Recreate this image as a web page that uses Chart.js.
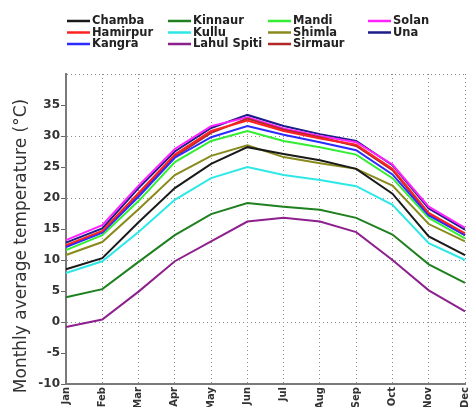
<!DOCTYPE html>
<html>
<head>
<meta charset="utf-8">
<script src="https://cdn.jsdelivr.net/npm/chart.js@4/dist/chart.umd.min.js"></script>
<style>
  html, body { margin: 0; padding: 0; background: #ffffff; overflow: hidden; }
  #wrap { position: relative; width: 480px; height: 412px; }
</style>
</head>
<body>
<div id="wrap"><canvas id="c" width="480" height="412"></canvas></div>
<script>
// Monthly average temperature (°C) by district
const months = ['Jan','Feb','Mar','Apr','May','Jun','Jul','Aug','Sep','Oct','Nov','Dec'];

const chamba     = [8.5, 10.3, 16.1, 21.6, 25.5, 28.2, 27.1, 26.1, 24.7, 20.7, 13.8, 10.8];
const hamirpur   = [12.4, 14.7, 20.8, 27.0, 30.8, 32.5, 30.8, 29.6, 28.6, 24.7, 17.6, 14.3];
const kangra     = [12.1, 14.4, 20.2, 26.5, 29.8, 31.6, 30.2, 29.0, 27.7, 23.8, 17.2, 14.0];
const kinnaur    = [4.0, 5.3, 9.7, 14.0, 17.4, 19.2, 18.6, 18.1, 16.8, 14.1, 9.3, 6.3];
const kullu      = [7.9, 9.8, 14.5, 19.7, 23.2, 25.0, 23.7, 22.9, 21.9, 18.9, 12.7, 10.0];
const lahulSpiti = [-0.8, 0.4, 4.9, 9.8, 13.0, 16.2, 16.8, 16.2, 14.5, 10.0, 5.1, 1.7];
const mandi      = [11.6, 14.0, 19.5, 25.8, 29.2, 30.8, 29.2, 28.2, 27.0, 23.2, 16.8, 13.5];
const shimla     = [10.8, 12.9, 18.2, 23.7, 26.8, 28.5, 26.6, 25.6, 24.7, 22.0, 15.8, 13.0];
const sirmaur    = [12.2, 14.5, 20.6, 26.7, 30.5, 32.8, 31.0, 29.8, 28.4, 24.5, 17.4, 14.0];
const solan      = [13.2, 15.6, 22.0, 27.9, 31.6, 33.0, 31.2, 30.0, 29.0, 25.4, 18.6, 15.2];
const una        = [12.8, 15.1, 21.6, 27.5, 31.3, 33.4, 31.6, 30.3, 29.2, 25.3, 18.3, 14.9];

const districtNames = ['Chamba','Hamirpur','Kangra','Kinnaur','Kullu','Lahul Spiti','Mandi','Shimla','Sirmaur','Solan','Una'];
const districtSeries = [chamba, hamirpur, kangra, kinnaur, kullu, lahulSpiti, mandi, shimla, sirmaur, solan, una];
const districtColors = ['#1a1a1a','#ff2222','#2b2bff','#1f801f','#2ee8e8','#8e208e','#33ee33','#8a8a1c','#b02828','#ff22ff','#1c1c8a'];

const yTicks = [-10, -5, 0, 5, 10, 15, 20, 25, 30, 35, 40];
const yTitle = 'Monthly average temperature (\u00B0C)';

const datasets = districtNames.map((name, i) => ({
  label: name,
  data: districtSeries[i],
  borderColor: districtColors[i],
  backgroundColor: districtColors[i],
  borderWidth: 2,
  pointRadius: 0,
  tension: 0,
  fill: false
}));

// Legend: three rows, filled column by column
const columnLegend = {
  id: 'columnLegend',
  afterDraw(chart) {
    const ctx = chart.ctx;
    const colX = [67, 168, 268, 368];
    const rowY = [21, 32.5, 44];
    ctx.save();
    ctx.font = 'bold 11.5px "DejaVu Sans", sans-serif';
    ctx.textBaseline = 'middle';
    ctx.textAlign = 'left';
    chart.data.datasets.forEach((ds, i) => {
      const col = Math.floor(i / 3), row = i % 3;
      const x = colX[col], y = rowY[row];
      ctx.strokeStyle = ds.borderColor;
      ctx.lineWidth = 2.5;
      ctx.beginPath();
      ctx.moveTo(x, y);
      ctx.lineTo(x + 23, y);
      ctx.stroke();
      ctx.fillStyle = '#222';
      ctx.fillText(ds.label, x + 25, y + 0.5);
    });
    ctx.restore();
  }
};

// Vertical axis title
const sideTitle = {
  id: 'sideTitle',
  afterDraw(chart) {
    const ctx = chart.ctx;
    ctx.save();
    ctx.translate(22, 246);
    ctx.rotate(-Math.PI / 2);
    ctx.font = '17px "DejaVu Sans", sans-serif';
    ctx.fillStyle = '#333';
    ctx.textAlign = 'center';
    ctx.textBaseline = 'middle';
    ctx.fillText(yTitle, 0, 0);
    ctx.restore();
  }
};

new Chart(document.getElementById('c'), {
  type: 'line',
  data: { labels: months, datasets },
  options: {
    responsive: false,
    animation: false,
    layout: { padding: { left: 0, top: 74, right: 12, bottom: 0 } },
    plugins: { legend: { display: false }, tooltip: { enabled: false } },
    scales: {
      x: {
        offset: false,
        border: { display: true, color: '#7a7a7a', width: 2, dash: [1, 3] },
        grid: {
          drawTicks: false,
          color: (c) => c.index === 0 ? 'rgba(0,0,0,0)' : '#8c8c8c',
          lineWidth: 1
        },
        ticks: {
          autoSkip: false,
          maxRotation: 90,
          minRotation: 90,
          padding: 3,
          color: '#333',
          font: { family: '"DejaVu Sans", sans-serif', size: 10, weight: 'bold' }
        },
        afterFit(scale) { scale.height = 28; }
      },
      y: {
        min: -10,
        max: 40,
        afterBuildTicks(scale) { scale.ticks = yTicks.map(v => ({ value: v })); },
        border: { display: true, color: '#7a7a7a', width: 2, dash: [1, 3] },
        grid: {
          drawTicks: true,
          tickLength: 5,
          color: (c) => (c.tick && c.tick.value % 10 === 0) ? '#8c8c8c' : 'rgba(0,0,0,0)',
          tickColor: (c) => (c.tick && c.tick.value === 40) ? 'rgba(0,0,0,0)' : '#666',
          tickBorderDash: [],
          lineWidth: 1
        },
        ticks: {
          padding: 1,
          color: '#333',
          font: { family: '"DejaVu Sans", sans-serif', size: 12, weight: 'bold' },
          callback: (v) => v === 40 ? '' : String(v)
        },
        afterFit(scale) { scale.width = 66; }
      }
    }
  },
  plugins: [columnLegend, sideTitle]
});
</script>
</body>
</html>
